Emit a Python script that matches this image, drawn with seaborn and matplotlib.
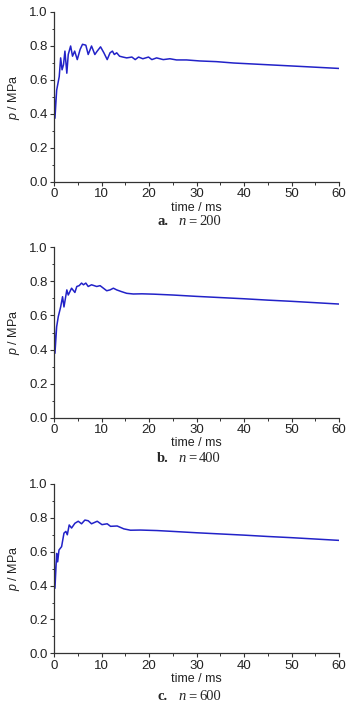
import matplotlib
matplotlib.use("Agg")
import matplotlib.pyplot as plt
from matplotlib.ticker import MultipleLocator
import seaborn as sns

# pressure traces (time in ms, p in MPa)
t_a = [0, 0.05, 0.2, 0.56, 1.1, 1.4, 1.7, 2.0, 2.3, 2.7, 3.0, 3.5, 3.9, 4.35, 4.9,
       5.5, 6.0, 6.7, 7.2, 7.9, 8.6, 9.1, 9.8, 10.5, 11.2, 11.8, 12.3, 12.7, 13.2,
       13.8, 14.5, 15.3, 16.4, 17.1, 17.8, 18.7, 19.9, 20.6, 21.6, 23.0, 24.4, 25.8,
       27.9, 30.7, 34.2, 37.8, 41.3, 44.8, 48.3, 51.8, 60]
p_a = [0, 0.52, 0.375, 0.54, 0.62, 0.73, 0.66, 0.69, 0.77, 0.64, 0.75, 0.80, 0.74,
       0.77, 0.72, 0.78, 0.81, 0.805, 0.75, 0.80, 0.75, 0.77, 0.795, 0.76, 0.72,
       0.76, 0.77, 0.75, 0.76, 0.74, 0.735, 0.73, 0.735, 0.72, 0.735, 0.725, 0.735,
       0.72, 0.73, 0.72, 0.725, 0.718, 0.718, 0.712, 0.708, 0.70, 0.695, 0.69,
       0.685, 0.68, 0.668]

t_b = [0, 0.05, 0.2, 0.56, 0.9, 1.4, 1.8, 2.1, 2.7, 3.0, 3.7, 4.4, 4.8, 5.3, 5.8,
       6.2, 6.7, 7.2, 7.9, 9.0, 9.7, 10.4, 11.1, 11.8, 12.5, 13.2, 14.2, 15.3, 16.7,
       18.5, 21, 25, 30, 35, 40, 45, 50, 55, 60]
p_b = [0, 0.55, 0.378, 0.534, 0.593, 0.65, 0.71, 0.65, 0.75, 0.72, 0.76, 0.735,
       0.77, 0.775, 0.79, 0.78, 0.79, 0.77, 0.78, 0.77, 0.775, 0.76, 0.745, 0.75,
       0.76, 0.75, 0.74, 0.73, 0.726, 0.727, 0.725, 0.72, 0.712, 0.705, 0.698,
       0.69, 0.683, 0.675, 0.667]

t_c = [0, 0.05, 0.2, 0.56, 0.77, 1.05, 1.6, 2.1, 2.5, 2.8, 3.2, 3.7, 4.4, 5.1, 5.8,
       6.5, 7.2, 7.9, 9.1, 10.1, 11.2, 11.9, 13.3, 14.7, 16.1, 18.2, 21.7, 25, 30,
       35, 40, 45, 50, 55, 60]
p_c = [0, 0.55, 0.384, 0.59, 0.54, 0.61, 0.63, 0.71, 0.72, 0.70, 0.758, 0.74,
       0.768, 0.78, 0.765, 0.787, 0.783, 0.765, 0.78, 0.76, 0.765, 0.75, 0.752,
       0.735, 0.727, 0.728, 0.725, 0.72, 0.712, 0.705, 0.698, 0.69, 0.683, 0.675,
       0.667]

panel_letters = ["a.", "b.", "c."]
panel_n = ["200", "400", "600"]

sns.set_style("ticks")
plt.rcParams["font.family"] = ["Liberation Sans", "DejaVu Sans"]
plt.rcParams["mathtext.fontset"] = "custom"
plt.rcParams["mathtext.it"] = "Liberation Sans:italic"
plt.rcParams["mathtext.rm"] = "Liberation Sans"

W, H = 359, 712
fig = plt.figure(figsize=(W / 100, H / 100), dpi=100)

# (top px, bottom px) of each axes box
boxes = [(12, 182), (247.3, 417.7), (484, 653.3)]
caption_y = [221.5, 458, 697]
series = [(t_a, p_a), (t_b, p_b), (t_c, p_c)]
line_color = "#2222c8"
axis_color = "#333333"

for i, ((top, bot), (t, p)) in enumerate(zip(boxes, series)):
    ax = fig.add_axes([54 / W, 1 - bot / H, 285 / W, (bot - top) / H])
    sns.lineplot(x=t, y=p, ax=ax, color=line_color, linewidth=1.1)
    ax.set_xlim(0, 60)
    ax.set_ylim(0, 1.0)
    ax.xaxis.set_major_locator(MultipleLocator(10))
    ax.xaxis.set_minor_locator(MultipleLocator(5))
    ax.yaxis.set_major_locator(MultipleLocator(0.2))
    ax.yaxis.set_minor_locator(MultipleLocator(0.1))
    ax.yaxis.set_major_formatter(plt.FormatStrFormatter("%.1f"))
    sns.despine(ax=ax)
    for side in ("left", "bottom"):
        ax.spines[side].set_color(axis_color)
        ax.spines[side].set_linewidth(0.9)
    ax.tick_params(which="major", direction="out", length=3, width=0.8,
                   color=axis_color, labelsize=9.5, labelcolor="#222222", pad=1.5)
    ax.tick_params(which="minor", direction="out", length=1.8, width=0.7,
                   color=axis_color)
    ax.set_xlabel("time / ms", fontsize=9, labelpad=1, color="#222222")
    ax.set_ylabel(r"$p$ / MPa", fontsize=9, labelpad=5, color="#222222")

    # caption under each panel: bold letter, italic n, value
    yc = 1 - caption_y[i] / H
    fig.text(157 / W, yc, panel_letters[i], family="Liberation Serif",
             fontweight="bold", fontsize=10.5, ha="left", va="center")
    fig.text(178 / W, yc, "n", family="Liberation Serif", style="italic",
             fontsize=10.5, ha="left", va="center")
    fig.text(188 / W, yc, "=", family="Liberation Serif",
             fontsize=10.5, ha="left", va="center")
    fig.text(199 / W, yc, panel_n[i], family="Liberation Serif",
             fontsize=10.5, ha="left", va="center")

fig.savefig("out.png", dpi=100)
